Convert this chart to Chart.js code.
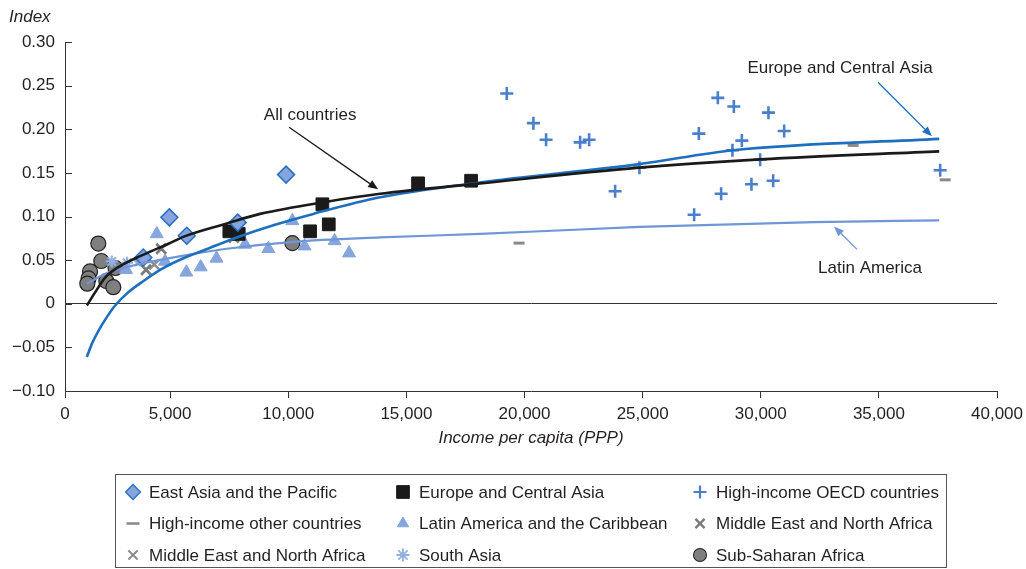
<!DOCTYPE html>
<html>
<head>
<meta charset="utf-8">
<script src="https://cdn.jsdelivr.net/npm/chart.js@4"></script>
<style>
html,body{margin:0;padding:0;background:#fff;}
canvas{display:block;}
</style>
</head>
<body>
<canvas id="c" width="1026" height="569"></canvas>
<script>
// ---------- DATA ----------
const xTickValues = [0, 5000, 10000, 15000, 20000, 25000, 30000, 35000, 40000];
const yTickValues = [-0.10, -0.05, 0, 0.05, 0.10, 0.15, 0.20, 0.25, 0.30];

const eastAsiaPacific = [[9907,0.148],[4966,0.099],[5703,0.078],[7862,0.093],[3865,0.053]];
const europeCentralAsia = [[7506,0.083],[7904,0.080],[10923,0.083],[11444,0.114],[11715,0.091],[15495,0.138],[17739,0.141]];
const highIncomeOECD = [[19250,0.241],[20377,0.207],[20914,0.188],[22354,0.185],[22735,0.188],[23836,0.129],[24865,0.156],
  [27180,0.102],[27379,0.195],[28184,0.236],[28323,0.126],[28802,0.176],[28861,0.226],[29200,0.187],[29606,0.137],
  [29975,0.165],[30326,0.219],[30525,0.141],[30991,0.198],[37595,0.153]];
const highIncomeOther = [[19771,0.0695],[33912,0.1815],[37807,0.142]];
const latinAmericaCaribbean = [[4433,0.080],[5686,0.036],[6295,0.042],[6964,0.052],[8171,0.068],[9157,0.063],[10173,0.095],
  [10690,0.066],[11960,0.072],[12574,0.058],[3133,0.039],[4784,0.0485],[3797,0.052]];
const middleEastNorthAfrica1 = [[4623,0.063],[3980,0.039],[7693,0.076]];
const middleEastNorthAfrica2 = [[4327,0.045]];
const southAsia = [[2528,0.0485],[3175,0.047],[3726,0.0495]];
const subSaharanAfrica = [[1960,0.069],[2087,0.049],[1609,0.037],[1545,0.029],[1494,0.023],[2299,0.026],[2595,0.019],[2688,0.041],[10174,0.0695]];

const curveAllCountries = [[1474,-0.002],[1826,0.013],[2249,0.030],[2812,0.042],[3802,0.0554],[4928,0.0688],[5635,0.0775],
  [7396,0.092],[8806,0.103],[11630,0.117],[13887,0.126],[18121,0.138],[24852,0.156],[29975,0.1655],[37553,0.1746]];
const curveEuropeCentralAsia = [[1474,-0.061],[1686,-0.046],[1965,-0.031],[2321,-0.0153],[2672,-0.002],[3235,0.0133],
  [3802,0.0248],[4649,0.040],[5635,0.053],[6405,0.061],[7820,0.076],[9369,0.090],[11063,0.103],[13887,0.122],
  [18121,0.139],[24852,0.160],[28832,0.176],[37553,0.189]];
const curveLatinAmerica = [[1474,0.023],[2400,0.036],[3802,0.046],[5635,0.0555],[7396,0.063],[10216,0.071],[13887,0.076],
  [18121,0.080],[24865,0.088],[32231,0.0935],[37553,0.0955]];

// annotation labels: [text, x, y] and arrows [x1,y1,x2,y2] in data units
const annotationLabels = [["All countries",10925,0.216],["Europe and Central Asia",33355,0.2698],["Latin America",34625,0.0405]];
const annotationArrows = [[10036,0.2022,13803,0.1311],[34963,0.2538,37249,0.1919],[34075,0.0623,33102,0.0886]];

// ---------- STYLE ----------
const FONT = "'Liberation Sans', Arial, sans-serif";
const FS = 17;
const TXT = '#231f20';
const xAxisMin = 550;
const cDark = '#1f6fbf', cLight = '#6f96d6', cBlack = '#1a1a1a';

const toPts = a => a.map(p => ({x: p[0], y: p[1]}));

const markerDefs = [
  {label:'East Asia and the Pacific', data:eastAsiaPacific, pointStyle:'rectRot', radius:8.5, bg:'#86a5dc', border:'#2a6ec4', bw:1.5},
  {label:'Europe and Central Asia', data:europeCentralAsia, pointStyle:'rect', radius:9, bg:cBlack, border:cBlack, bw:1},
  {label:'High-income OECD countries', data:highIncomeOECD, pointStyle:'cross', radius:6.5, bg:'#4a7fcc', border:'#4a7fcc', bw:2.6},
  {label:'High-income other countries', data:highIncomeOther, pointStyle:'line', radius:5.5, bg:'#8a8a8a', border:'#8a8a8a', bw:3},
  {label:'Latin America and the Caribbean', data:latinAmericaCaribbean, pointStyle:'triangle', radius:7.5, bg:'#86a5dc', border:'#86a5dc', bw:1},
  {label:'Middle East and North Africa', data:middleEastNorthAfrica1, pointStyle:'crossRot', radius:7, bg:'#7b7b7b', border:'#7b7b7b', bw:2.8},
  {label:'Middle East and North Africa', data:middleEastNorthAfrica2, pointStyle:'crossRot', radius:7, bg:'#8c8c8c', border:'#8c8c8c', bw:2.4},
  {label:'South Asia', data:southAsia, pointStyle:'star', radius:6, bg:'#93b0e2', border:'#93b0e2', bw:2.2},
  {label:'Sub-Saharan Africa', data:subSaharanAfrica, pointStyle:'circle', radius:7.5, bg:'#7f7f7f', border:'#222', bw:1.2}
];

const datasets = [];
[[curveAllCountries, cBlack, 2.6],[curveEuropeCentralAsia, cDark, 2.6],[curveLatinAmerica, cLight, 2.2]].forEach((c,i) => {
  datasets.push({type:'scatter', label:'curve'+i, data:toPts(c[0]), showLine:true, borderColor:c[1], borderWidth:c[2],
    pointRadius:0, tension:0.4, cubicInterpolationMode:'monotone', fill:false, order:0});
});
markerDefs.forEach(m => {
  datasets.push({type:'scatter', label:m.label, data:toPts(m.data), pointStyle:m.pointStyle, pointRadius:m.radius,
    pointHoverRadius:m.radius, backgroundColor:m.bg, borderColor:m.border, borderWidth:m.bw, order:1});
});

function arrow(ctx, x1, y1, x2, y2, color) {
  ctx.save();
  ctx.strokeStyle = color; ctx.fillStyle = color; ctx.lineWidth = 1.3;
  const ang = Math.atan2(y2 - y1, x2 - x1), L = 10, W = 4;
  const bx = x2 - Math.cos(ang) * L, by = y2 - Math.sin(ang) * L;
  ctx.beginPath(); ctx.moveTo(x1, y1); ctx.lineTo(bx, by); ctx.stroke();
  ctx.beginPath(); ctx.moveTo(x2, y2);
  ctx.lineTo(bx + Math.sin(ang) * W, by - Math.cos(ang) * W);
  ctx.lineTo(bx - Math.sin(ang) * W, by + Math.cos(ang) * W);
  ctx.closePath(); ctx.fill();
  ctx.restore();
}

const decorPlugin = {
  id: 'decor',
  afterDraw(chart) {
    const ctx = chart.ctx, xs = chart.scales.x, ys = chart.scales.y, ca = chart.chartArea;
    ctx.save();
    // inside y ticks
    ctx.strokeStyle = '#333'; ctx.lineWidth = 1;
    yTickValues.forEach(v => {
      const py = Math.round(ys.getPixelForValue(v)) + 0.5;
      ctx.beginPath(); ctx.moveTo(ca.left, py); ctx.lineTo(ca.left + 7, py); ctx.stroke();
    });
    // axis titles
    ctx.fillStyle = TXT;
    ctx.font = 'italic ' + FS + 'px ' + FONT;
    ctx.textAlign = 'left'; ctx.textBaseline = 'middle';
    ctx.fillText('Index', 9, 17);
    ctx.textAlign = 'center';
    ctx.fillText('Income per capita (PPP)', (ca.left + ca.right) / 2, 438);
    // annotations
    ctx.font = FS + 'px ' + FONT;
    annotationLabels.forEach(a => ctx.fillText(a[0], xs.getPixelForValue(a[1]), ys.getPixelForValue(a[2])));
    const arrowColors = [cBlack, cDark, cLight];
    annotationArrows.forEach((a, i) => arrow(ctx, xs.getPixelForValue(a[0]), ys.getPixelForValue(a[1]),
      xs.getPixelForValue(a[2]), ys.getPixelForValue(a[3]), arrowColors[i]));
    // legend box
    const L = 115, T = 474, R = 946, B = 567;
    ctx.strokeStyle = '#555'; ctx.lineWidth = 1;
    ctx.strokeRect(L + 0.5, T + 0.5, R - L, B - T);
    const colX = [133, 403, 700], rowY = [492, 523.5, 555];
    ctx.font = FS + 'px ' + FONT; ctx.textAlign = 'left'; ctx.textBaseline = 'middle';
    markerDefs.forEach((m, i) => {
      const cx = colX[i % 3], cy = rowY[Math.floor(i / 3)];
      ctx.save();
      ctx.fillStyle = m.bg; ctx.strokeStyle = m.border; ctx.lineWidth = Math.max(m.bw * 0.85, 1);
      const r = m.pointStyle === 'rect' ? 9 : (m.pointStyle === 'rectRot' ? 7.5 : 6.5);
      if (Chart.helpers && Chart.helpers.drawPoint) {
        Chart.helpers.drawPoint(ctx, {pointStyle: m.pointStyle, radius: r, rotation: 0, borderWidth: m.bw}, cx, cy);
      }
      ctx.restore();
      ctx.fillStyle = TXT;
      ctx.fillText(m.label, cx + 16, cy + 1);
    });
    ctx.restore();
  }
};

new Chart(document.getElementById('c'), {
  type: 'scatter',
  data: {datasets},
  plugins: [decorPlugin],
  options: {
    responsive: false,
    animation: false,
    events: [],
    layout: {padding: {left: 0, right: 29, top: 42, bottom: 148}},
    plugins: {legend: {display: false}, tooltip: {enabled: false}, title: {display: false}},
    scales: {
      x: {
        type: 'linear', min: xAxisMin, max: 40000,
        afterBuildTicks: s => { s.ticks = xTickValues.map(v => ({value: Math.max(v, xAxisMin)})); },
        afterFit: s => { s.height = 30; s.paddingLeft = 0; s.paddingRight = 0; },
        ticks: {
          font: {family: FONT, size: FS}, color: TXT, padding: 6, maxRotation: 0, autoSkip: false,
          callback: v => v <= xAxisMin ? '0' : v.toLocaleString('en-US')
        },
        grid: {drawOnChartArea: false, drawTicks: true, tickLength: 7, tickColor: '#333', color: 'rgba(0,0,0,0)'},
        border: {display: true, color: '#333', width: 1}
      },
      y: {
        type: 'linear', min: -0.10, max: 0.30,
        afterBuildTicks: s => { s.ticks = yTickValues.map(v => ({value: v})); },
        afterFit: s => { s.width = 65; s.paddingTop = 0; s.paddingBottom = 0; },
        ticks: {
          font: {family: FONT, size: FS}, color: TXT, padding: 10,
          callback: v => Math.abs(v) < 1e-9 ? '0' : (v < 0 ? '\u2212' + Math.abs(v).toFixed(2) : v.toFixed(2))
        },
        grid: {drawTicks: false, lineWidth: 1, color: c => (c.tick && Math.abs(c.tick.value) < 1e-9) ? '#333' : 'rgba(0,0,0,0)'},
        border: {display: true, color: '#333', width: 1}
      }
    }
  }
});
</script>
</body>
</html>
